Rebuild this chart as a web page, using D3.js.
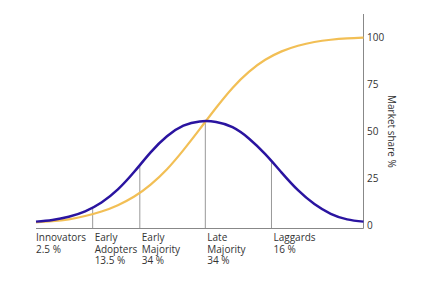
<!DOCTYPE html>
<html><head><meta charset="utf-8">
<script src="https://cdn.jsdelivr.net/npm/d3@7"></script>
<style>body{margin:0;background:#fff}svg{display:block}text{font-family:"Open Sans",sans-serif}</style>
</head><body>
<script>
// Adoption time position (0..100) and values (market share %)
const timeX  = [0, 5, 10, 15, 20, 25, 30, 35, 40, 45, 50, 55, 60, 65, 70, 75, 80, 85, 90, 95, 100];
const adopters = [1.8, 2.7, 4.4, 7.3, 12.0, 19.0, 28.4, 38.8, 47.4, 53.0, 55.3, 55.0, 52.2, 46.2, 37.8, 28.0, 18.6, 11.2, 6.0, 3.0, 1.8];
const marketShare = [1.4, 2.0, 3.0, 4.8, 7.2, 10.6, 15.2, 21.6, 29.8, 40.0, 51.2, 62.6, 73.2, 81.8, 88.2, 92.7, 95.7, 97.7, 98.9, 99.6, 100];
const dividers = [17.3, 31.7, 51.7, 71.9];
const categories = [["Innovators","2.5 %"],["Early","Adopters","13.5 %"],["Early","Majority","34 %"],["Late","Majority","34 %"],["Laggards","16 %"]];
const catStart = [0, 17.3, 31.7, 51.7, 71.9];
const yTicks = [0, 25, 50, 75, 100];

const W = 432, H = 305;
const svg = d3.select("body").append("svg").attr("width", W).attr("height", H);
const x = d3.scaleLinear().domain([0, 100]).range([36, 363.5]);
const y = d3.scaleLinear().domain([0, 100]).range([225, 37.7]);
const axisY = 228.5;

const line = d3.line().curve(d3.curveNatural);
const bellPath = svg.append("path").attr("d", line(timeX.map((d,i)=>[x(d), y(adopters[i])])))
  .attr("fill","none").attr("stroke","none");
// find curve height at a given x from the drawn path
const pathNode = bellPath.node(), totalLen = pathNode.getTotalLength();
const bellAtPx = px => {
  let lo = 0, hi = totalLen;
  for (let k = 0; k < 40; k++) { const m = (lo+hi)/2; if (pathNode.getPointAtLength(m).x < px) lo = m; else hi = m; }
  return pathNode.getPointAtLength(lo).y;
};

svg.selectAll("line.div").data(dividers).enter().append("line")
  .attr("x1", d => x(d)).attr("x2", d => x(d))
  .attr("y1", axisY).attr("y2", d => bellAtPx(x(d)))
  .attr("stroke", "#999").attr("stroke-width", 1);

// axes lines
svg.append("line").attr("x1", x(0)).attr("x2", x(100)).attr("y1", axisY).attr("y2", axisY)
  .attr("stroke", "#888").attr("stroke-width", 1);
svg.append("line").attr("x1", x(100)).attr("x2", x(100)).attr("y1", 14).attr("y2", axisY)
  .attr("stroke", "#888").attr("stroke-width", 1);

svg.append("path").attr("d", line(timeX.map((d,i)=>[x(d), y(marketShare[i])])))
  .attr("fill","none").attr("stroke","#f2bf55").attr("stroke-width",2.2);
svg.append("path").attr("d", line(timeX.map((d,i)=>[x(d), y(adopters[i])])))
  .attr("fill","none").attr("stroke","#2a14a0").attr("stroke-width",2.5);

// y tick labels
svg.selectAll("text.yt").data(yTicks).enter().append("text")
  .attr("x", 367).attr("y", d => y(d)).attr("dy","0.35em")
  .attr("font-size", 10).attr("fill", "#333").text(d => d);

svg.append("text").attr("transform", `translate(388,${y(50)}) rotate(90)`)
  .attr("text-anchor","middle").attr("font-size",10).attr("fill","#333").text("Market share %");

// category labels
categories.forEach((lines, i) => {
  const t = svg.append("text").attr("font-size", 10).attr("fill", "#333");
  lines.forEach((s, j) => {
    t.append("tspan").attr("x", x(catStart[i]) + (i === 0 ? 0 : 2)).attr("y", 241 + j * 11.7).text(s);
  });
});
</script>
</body></html>
